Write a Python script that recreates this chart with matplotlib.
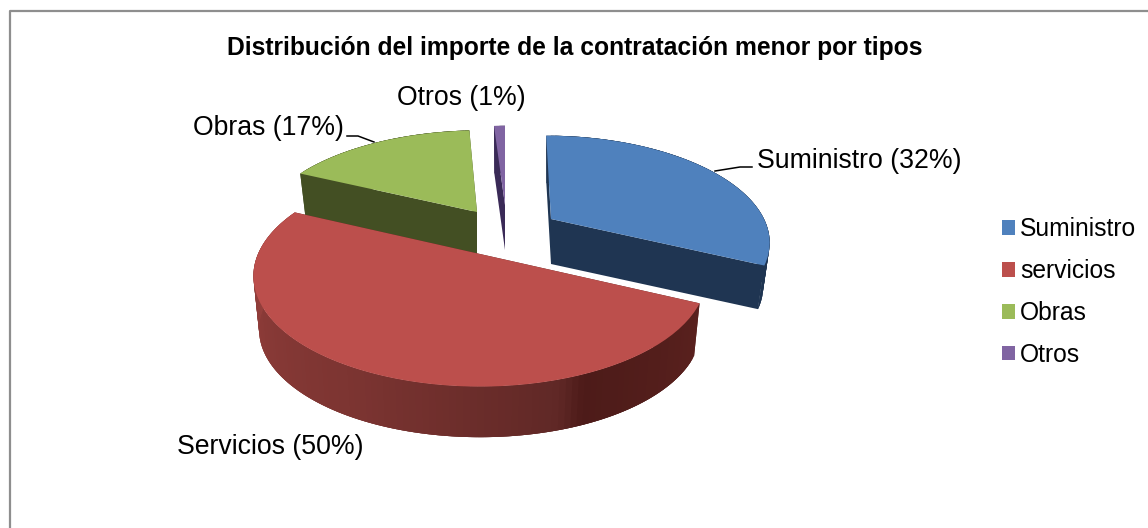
import numpy as np
import matplotlib
matplotlib.use("Agg")
import matplotlib.pyplot as plt
from matplotlib.transforms import Transform

plt.rcParams['font.family'] = ['Liberation Sans', 'DejaVu Sans']

# ---- data ----
categories = ["Suministro", "servicios", "Obras", "Otros"]
label_names = ["Suministro", "Servicios", "Obras", "Otros"]
values = [32, 50, 17, 1]
title = "Distribución del importe de la contratación menor por tipos"

# ---- style / layout ----
W, H = 1148, 528
top_colors = ["#4F81BD", "#BC4F4C", "#9BBB59", "#8064A2"]
face_colors = ["#1F3552", "#5A211E", "#434F23", "#3A2A57"]
apex = [(551, 219), (480, 254), (477, 212), (505, 205)]
rx = [213, 222, 214, 210]
ry = [100, 106, 98, 95]
shear = [-0.027, 0.0, 0.02, 0.0]
depth = [45, 54, 43, 45]
shrink = [0.97, 0.975, 0.97, 0.97]
K = 0.2
draw_order = [3, 0, 2, 1]


class Project(Transform):
    """Unit-circle pie coordinates -> tilted, perspective pixel coordinates."""
    input_dims = output_dims = 2

    def __init__(self, i, lower=False):
        super().__init__()
        self.i, self.lower = i, lower

    def transform_non_affine(self, pts):
        pts = np.asarray(pts, float)
        i = self.i
        s = shrink[i] if self.lower else 1.0
        w = 1 + K * pts[:, 1]
        x = apex[i][0] + s * rx[i] * (pts[:, 0] + shear[i] * pts[:, 1]) / w
        y = apex[i][1] - s * ry[i] * pts[:, 1] / w + (depth[i] if self.lower else 0)
        return np.column_stack([x, y])


fig = plt.figure(figsize=(W / 100, H / 100), dpi=100, facecolor="white")
ax = fig.add_axes([0, 0, 1, 1])
wedges, _ = ax.pie(values, colors=top_colors, startangle=90, counterclock=False, radius=1)
ax.set_aspect("auto")
ax.set_xlim(0, W)
ax.set_ylim(H, 0)
ax.axis("off")

# angular extent of each slice, clockwise from 12 o'clock
edges = np.cumsum([0] + values) / sum(values) * 2 * np.pi


def unit(t):
    return np.column_stack([np.sin(t), np.cos(t)])


wall_stops = {
    1: ([2.0, 2.75, 2.85, 3.6, 4.3, 5.2],
        ["#5A211E", "#4D1B19", "#602826", "#7B3431", "#8A3A37", "#A04642"]),
}
for z, i in enumerate(draw_order):
    a, b = edges[i], edges[i + 1]
    up, lo = Project(i), Project(i, lower=True)
    base = 2 + z * 3
    # flat cut faces
    for t in (a, b):
        u = np.vstack([[0, 0], unit(np.array([t]))])
        poly = np.vstack([up.transform_non_affine(u), lo.transform_non_affine(u)[::-1]])
        ax.fill(poly[:, 0], poly[:, 1], color=face_colors[i], lw=0, zorder=base)
    # outer wall, as shaded strips that overlap so that no seam shows
    ts = np.linspace(a, b, max(3, int((b - a) * 40)))
    for n, (t0, t1) in enumerate(zip(ts[:-1], ts[1:])):
        tt = np.linspace(t0, min(t1 + 0.05, b), 5)
        u = unit(tt)
        poly = np.vstack([up.transform_non_affine(u), lo.transform_non_affine(u)[::-1]])
        if i in wall_stops:
            st, cs = wall_stops[i]
            rgb = np.array([matplotlib.colors.to_rgb(c) for c in cs])
            col = [np.interp(0.5 * (t0 + t1), st, rgb[:, k]) for k in range(3)]
        else:
            col = face_colors[i]
        ax.fill(poly[:, 0], poly[:, 1], color=col, lw=0, zorder=base + 0.5 + n * 1e-3)
    # top surface: the pie wedge itself
    wedges[i].set_transform(up + ax.transData)
    wedges[i].set_zorder(base + 1)
    wedges[i].set_linewidth(0)

# frame
ax.plot([9.5, 9.5, 1148], [528, 10.5, 10.5], color="#8E8E8E", lw=1.6, zorder=1, clip_on=False)

# title and labels
ax.text(575, 48, title, ha="center", va="center", fontsize=17.7, fontweight="bold", color="black", zorder=30)
lab_pos = [(757, 161), (177, 447), (193, 128), (397, 98)]
for name, v, (x, y) in zip(label_names, values, lab_pos):
    ax.text(x, y, f"{name} ({v}%)", ha="left", va="center", fontsize=19.2, color="black", zorder=30)

# leader lines
ax.plot([715, 740, 752], [171, 167, 167], color="black", lw=1.1, zorder=29)
ax.plot([347, 358, 374], [136, 136, 142], color="black", lw=1.1, zorder=29)

# legend
leg = ax.legend(wedges, categories, loc="center left", bbox_to_anchor=(1002 / W, 1 - 292 / H),
                bbox_transform=fig.transFigure, frameon=False, fontsize=17.7,
                handlelength=0.53, handleheight=0.53, handletextpad=0.2,
                labelspacing=0.73, borderpad=0, borderaxespad=0)

fig.savefig("out.png", dpi=100, facecolor="white")
